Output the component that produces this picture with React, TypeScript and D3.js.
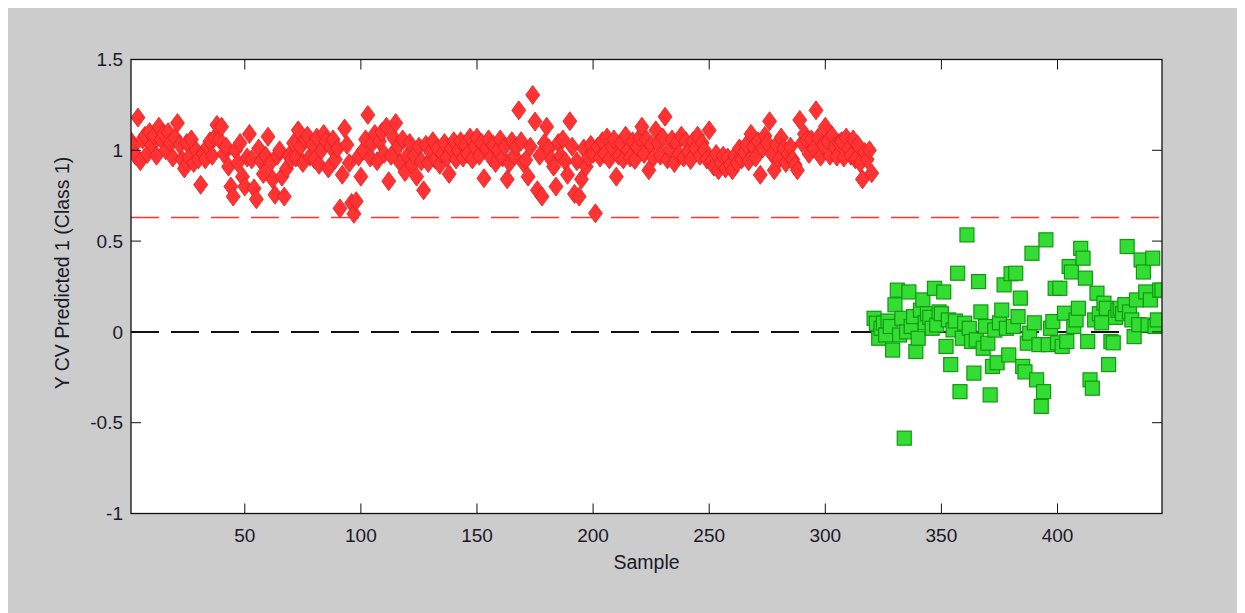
import * as d3 from "d3";
import { useEffect, useRef } from "react";

// Class 1 samples (1..320), predicted Y
const classOneValues = [
  1.05, 1.02, 0.97, 1.18, 0.94, 1.06, 1.08, 0.98, 1.1, 1.03, 1.08, 0.97, 1.13, 1.06, 1.09, 1.0, 1.1, 1.04, 0.96, 1.07,
  1.15, 1.03, 0.95, 0.9, 1.04, 0.96, 1.06, 0.93, 1.0, 0.95, 0.81, 0.98, 0.95, 1.02, 1.05, 0.97, 1.07, 1.14, 1.06, 1.13,
  0.98, 1.02, 0.91, 0.8, 0.745, 1.0, 0.93, 1.04, 0.855, 0.8, 0.96, 1.09, 0.95, 0.79, 0.73, 1.01, 0.94, 0.87, 0.97, 1.075,
  0.93, 0.84, 0.755, 0.97, 1.0, 0.855, 0.745, 0.9, 0.97, 0.95, 1.04, 0.96, 1.11, 1.02, 0.93, 1.06, 1.08, 0.965, 1.03, 0.95,
  1.07, 0.92, 1.0, 1.09, 1.05, 0.9, 1.02, 1.06, 0.95, 1.01, 0.68, 0.865, 1.12, 1.03, 0.93, 0.71, 0.65, 0.72, 0.965, 0.855,
  1.0, 1.06, 1.195, 0.96, 1.04, 1.09, 0.94, 1.05, 1.1, 0.98, 1.13, 0.83, 0.97, 1.07, 1.15, 1.02, 0.93, 1.06, 0.88, 0.97,
  1.04, 0.92, 0.97, 0.855, 1.02, 0.94, 0.78, 1.03, 0.93, 0.99, 1.05, 0.95, 1.01, 0.92, 0.98, 1.04, 0.96, 0.87, 1.01, 1.05,
  0.95, 1.0, 1.05, 0.96, 1.03, 0.98, 1.07, 0.95, 1.02, 1.07, 0.97, 1.04, 0.846, 1.01, 1.06, 0.96, 1.03, 0.93, 1.0, 1.06,
  0.96, 1.02, 0.84, 0.93, 1.05, 0.97, 1.02, 1.22, 1.05, 0.93, 0.947, 0.855, 1.02, 1.305, 1.158, 0.78, 0.97, 0.745, 1.04, 1.13,
  1.01, 0.95, 0.91, 0.8, 1.04, 0.97, 1.06, 0.94, 0.865, 1.16, 1.02, 0.76, 0.94, 0.745, 0.84, 1.01, 0.91, 0.96, 1.03, 0.98,
  0.653, 1.02, 0.96, 1.05, 0.98, 1.07, 0.95, 1.02, 1.06, 0.855, 0.97, 1.04, 0.95, 1.08, 1.0, 0.96, 1.05, 0.947, 1.02, 1.07,
  1.13, 0.98, 1.06, 0.89, 1.03, 0.96, 1.11, 1.04, 0.97, 1.07, 1.185, 0.95, 1.01, 1.06, 0.93, 1.04, 0.98, 1.08, 0.96, 1.05,
  0.99, 0.947, 1.05, 1.01, 1.08, 0.97, 1.04, 1.0, 0.95, 1.11, 0.94, 0.91, 0.98, 0.89, 0.93, 0.97, 0.9, 0.96, 0.92, 0.89,
  0.97, 0.93, 1.01, 0.95, 0.99, 1.03, 0.94, 1.09, 1.02, 0.96, 1.05, 0.865, 1.01, 1.08, 1.04, 1.16, 0.98, 0.89, 1.03, 0.95,
  1.07, 1.01, 0.93, 0.98, 1.02, 0.95, 0.92, 0.89, 1.167, 1.04, 1.09, 1.057, 0.98, 1.06, 1.01, 1.22, 1.07, 0.965, 1.03, 1.13,
  1.05, 0.97, 1.08, 1.02, 0.965, 1.04, 1.05, 0.96, 1.07, 1.01, 0.97, 1.06, 0.95, 1.03, 0.93, 0.84, 0.99, 0.95, 1.0, 0.874,
];

// Class 2 samples (321..445), predicted Y
const classTwoValues = [
  0.075, 0.048, -0.035, 0.02, 0.048, -0.017, 0.06, 0.03, -0.1, 0.149, 0.23, -0.017, 0.075, -0.585, 0.0, 0.22, 0.03, 0.084, -0.108, -0.035,
  0.12, 0.176, 0.05, 0.1, 0.08, 0.02, 0.24, 0.038, 0.11, 0.1, 0.22, -0.08, 0.066, -0.18, 0.011, 0.06, 0.323, -0.329, -0.035, 0.048,
  0.534, 0.02, -0.053, -0.227, -0.044, 0.277, 0.11, -0.09, 0.03, -0.062, -0.347, -0.19, 0.01, -0.17, 0.05, 0.12, 0.259, 0.02, -0.127, 0.32,
  0.03, 0.323, 0.084, 0.186, -0.19, -0.22, -0.062, -0.007, 0.433, 0.05, -0.264, -0.07, -0.41, -0.329, 0.507, -0.07, 0.02, 0.057, 0.24, -0.06,
  0.24, -0.08, 0.103, -0.053, 0.36, 0.33, 0.03, 0.066, 0.13, 0.46, 0.406, 0.296, -0.053, -0.264, -0.31, 0.066, 0.213, 0.1, 0.05, 0.158,
  0.13, -0.18, -0.053, -0.06, 0.08, 0.12, 0.13, 0.1, 0.15, 0.47, 0.11, 0.066, -0.026, 0.176, 0.04, 0.396, 0.33, 0.22, 0.038, 0.176,
  0.406, 0.03, 0.066, 0.23, 0.23,
];

const xTicks = [50, 100, 150, 200, 250, 300, 350, 400];
const yTicks = [-1, -0.5, 0, 0.5, 1, 1.5];
const threshold = 0.63;

const WIDTH = 1237;
const HEIGHT = 605;
const MARGIN = { top: 51.5, right: 83, bottom: 99.5, left: 123 };
const FONT = "'Liberation Sans', Arial, sans-serif";

export default function App() {
  const svgRef = useRef(null);

  useEffect(() => {
    const svg = d3.select(svgRef.current);
    svg.selectAll("*").remove();

    const innerW = WIDTH - MARGIN.left - MARGIN.right;
    const innerH = HEIGHT - MARGIN.top - MARGIN.bottom;

    const x = d3.scaleLinear().domain([1, 445]).range([0, innerW]);
    const y = d3.scaleLinear().domain([-1, 1.5]).range([innerH, 0]);

    svg.append("rect").attr("width", WIDTH).attr("height", HEIGHT).attr("fill", "#cccccc");

    const g = svg.append("g").attr("transform", `translate(${MARGIN.left},${MARGIN.top})`);

    g.append("rect").attr("width", innerW).attr("height", innerH).attr("fill", "#ffffff");

    svg
      .append("defs")
      .append("clipPath")
      .attr("id", "plot-clip")
      .append("rect")
      .attr("width", innerW)
      .attr("height", innerH);

    const plot = g.append("g").attr("clip-path", "url(#plot-clip)");

    // reference lines
    plot
      .append("line")
      .attr("x1", 0)
      .attr("x2", innerW)
      .attr("y1", y(threshold))
      .attr("y2", y(threshold))
      .attr("stroke", "#ff3333")
      .attr("stroke-width", 1.6)
      .attr("stroke-dasharray", "28,12");

    plot
      .append("line")
      .attr("x1", 0)
      .attr("x2", innerW)
      .attr("y1", y(0))
      .attr("y2", y(0))
      .attr("stroke", "#111111")
      .attr("stroke-width", 2)
      .attr("stroke-dasharray", "28,12");

    const diamond = "M0,-9.5L7,0L0,9.5L-7,0Z";

    plot
      .selectAll("path.class1")
      .data(classOneValues)
      .join("path")
      .attr("class", "class1")
      .attr("d", diamond)
      .attr("transform", (d, i) => `translate(${x(i + 1)},${y(d)})`)
      .attr("fill", "#ff3333")
      .attr("stroke", "#e01e1e")
      .attr("stroke-width", 0.8);

    plot
      .selectAll("rect.class2")
      .data(classTwoValues)
      .join("rect")
      .attr("class", "class2")
      .attr("x", (d, i) => x(i + 321) - 7)
      .attr("y", (d) => y(d) - 7)
      .attr("width", 14)
      .attr("height", 14)
      .attr("fill", "#33dd33")
      .attr("stroke", "#119911")
      .attr("stroke-width", 1.2);

    // frame
    g.append("rect")
      .attr("width", innerW)
      .attr("height", innerH)
      .attr("fill", "none")
      .attr("stroke", "#111111")
      .attr("stroke-width", 1.3);

    const tickLen = 10;
    xTicks.forEach((t) => {
      g.append("line")
        .attr("x1", x(t)).attr("x2", x(t))
        .attr("y1", innerH).attr("y2", innerH - tickLen)
        .attr("stroke", "#111111");
      g.append("line")
        .attr("x1", x(t)).attr("x2", x(t))
        .attr("y1", 0).attr("y2", tickLen)
        .attr("stroke", "#111111");
      g.append("text")
        .attr("x", x(t))
        .attr("y", innerH + 28)
        .attr("text-anchor", "middle")
        .style("font-family", FONT)
        .style("font-size", "19px")
        .attr("fill", "#1a1a2a")
        .text(t);
    });

    yTicks.forEach((t) => {
      g.append("line")
        .attr("x1", 0).attr("x2", tickLen)
        .attr("y1", y(t)).attr("y2", y(t))
        .attr("stroke", "#111111");
      g.append("line")
        .attr("x1", innerW).attr("x2", innerW - tickLen)
        .attr("y1", y(t)).attr("y2", y(t))
        .attr("stroke", "#111111");
      g.append("text")
        .attr("x", -8)
        .attr("y", y(t))
        .attr("dy", "0.35em")
        .attr("text-anchor", "end")
        .style("font-family", FONT)
        .style("font-size", "19px")
        .attr("fill", "#1a1a2a")
        .text(t);
    });

    g.append("text")
      .attr("x", innerW / 2)
      .attr("y", innerH + 55)
      .attr("text-anchor", "middle")
      .style("font-family", FONT)
      .style("font-size", "19.5px")
      .attr("fill", "#1a1a2a")
      .text("Sample");

    g.append("text")
      .attr("transform", `translate(${-62},${265 - MARGIN.top}) rotate(-90)`)
      .attr("text-anchor", "middle")
      .style("font-family", FONT)
      .style("font-size", "19.5px")
      .attr("fill", "#1a1a2a")
      .text("Y CV Predicted 1 (Class 1)");
  }, []);

  return (
    <div>
      <svg ref={svgRef} width={WIDTH} height={HEIGHT} style={{ display: "block" }}></svg>
    </div>
  );
}
